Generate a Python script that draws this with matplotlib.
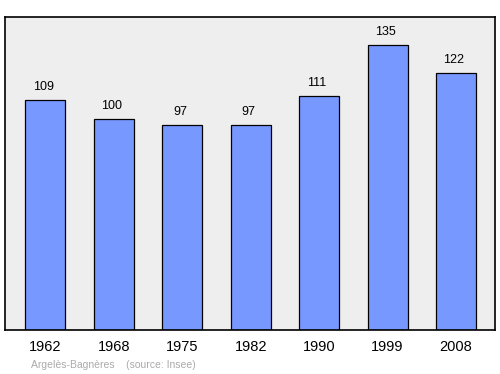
import matplotlib
matplotlib.use("Agg")
import matplotlib.pyplot as plt

years = ["1962", "1968", "1975", "1982", "1990", "1999", "2008"]
population = [109, 100, 97, 97, 111, 135, 122]
commune = "Argelès-Bagnères"
source = "(source: Insee)"

plt.rcParams["font.family"] = ["Liberation Sans", "DejaVu Sans"]

fig = plt.figure(figsize=(5, 3.74), dpi=100)
ax = fig.add_axes([5 / 500, 1 - 330 / 374, 490 / 500, 313 / 374])
ax.set_facecolor("#eeeeee")

x = range(len(years))
bars = ax.bar(x, population, width=0.585, color="#7799ff", edgecolor="black", linewidth=0.9)

for xi, v in zip(x, population):
    ax.annotate(str(v), (xi, v), xytext=(-1.5, 5), textcoords="offset points",
                ha="center", va="bottom", fontsize=9)

ax.set_xlim(-0.59, 6.57)
ax.set_ylim(0, 148.3)
ax.set_xticks(list(x))
ax.set_xticklabels(years, fontsize=10.5)
ax.tick_params(axis="x", length=0, pad=7)
ax.set_yticks([])
for s in ax.spines.values():
    s.set_linewidth(1.2)

fig.text(31 / 500, 1 - 365 / 374, commune + "    " + source, fontsize=7.5,
         color="#aaaaaa", va="center", ha="left")

fig.savefig("out.png", dpi=100)
